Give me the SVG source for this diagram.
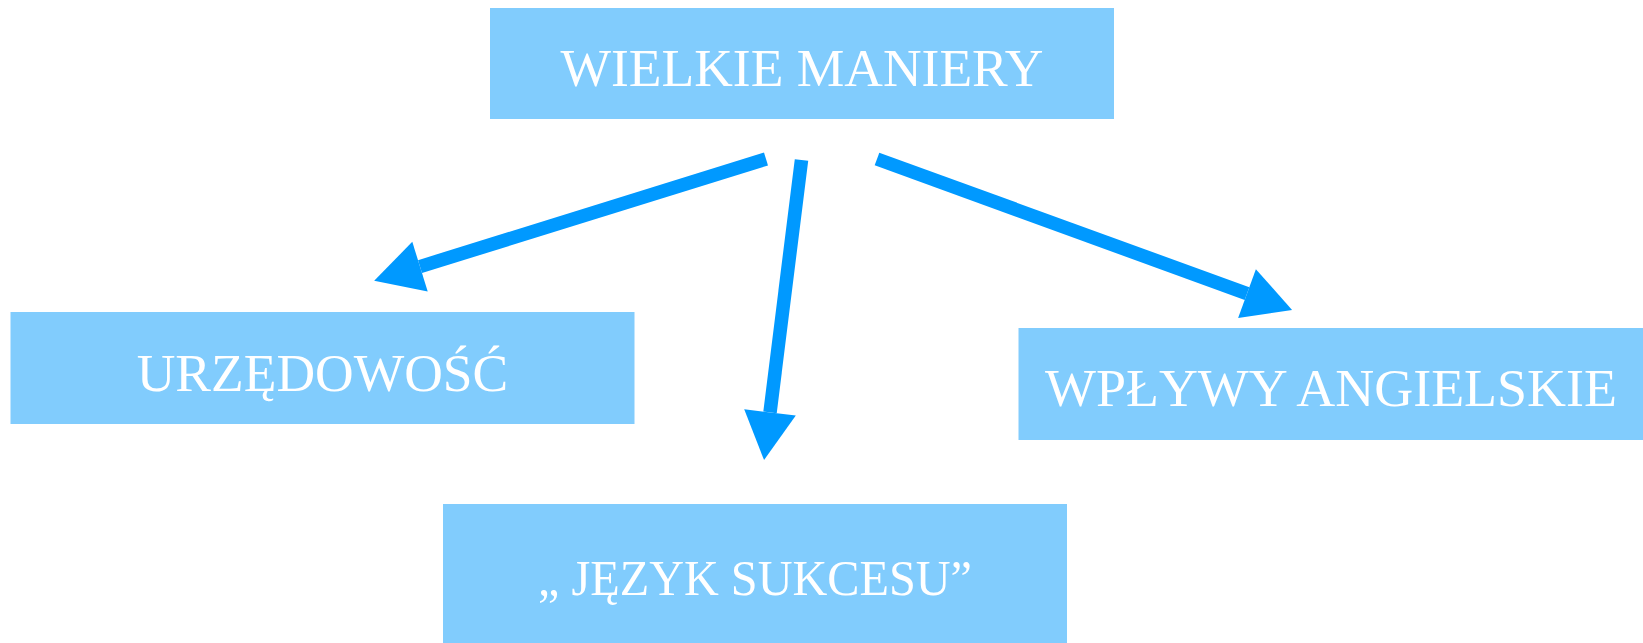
<svg xmlns="http://www.w3.org/2000/svg" width="1643" height="643" viewBox="0 0 1643 643">
  <style>
    .box { fill: #81CCFD; }
    .lbl { font-family: "Liberation Serif", "Times New Roman", serif; font-size: 53.5px; fill: #FFFFFF; text-anchor: middle; }
    .small { font-size: 50px; }
    .arr { stroke: #0099FF; stroke-width: 13.5; fill: none; marker-end: url(#head); }
  </style>
  <defs>
    <marker id="head" markerUnits="userSpaceOnUse" markerWidth="50" markerHeight="52" refX="0" refY="26" orient="auto" overflow="visible">
      <path d="M0,0 L48,26 L0,52 Z" fill="#0099FF"/>
    </marker>
  </defs>
  <rect width="1643" height="643" fill="#FFFFFF"/>
  <g id="node-wielkie">
    <rect class="box" x="490" y="8" width="624" height="111"/>
    <text class="lbl" x="802" y="86">WIELKIE MANIERY</text>
  </g>
  <g id="node-urzedowosc">
    <rect class="box" x="10.5" y="312" width="624" height="112"/>
    <text class="lbl" x="322.5" y="391">URZĘDOWOŚĆ</text>
  </g>
  <g id="node-wplywy">
    <rect class="box" x="1018.5" y="328" width="625" height="112"/>
    <text class="lbl" x="1331" y="405.5" textLength="572" lengthAdjust="spacingAndGlyphs">WPŁYWY ANGIELSKIE</text>
  </g>
  <g id="node-jezyk">
    <rect class="box" x="443" y="504" width="624" height="139"/>
    <text class="lbl small" x="755" y="595" textLength="434" lengthAdjust="spacingAndGlyphs">„ JĘZYK SUKCESU”</text>
  </g>
  <g id="connectors">
    <line class="arr" x1="766" y1="159" x2="420" y2="266.6"/>
    <line class="arr" x1="801.5" y1="160" x2="770" y2="412.4"/>
    <line class="arr" x1="877" y1="159" x2="1247" y2="293.6"/>
  </g>
</svg>
